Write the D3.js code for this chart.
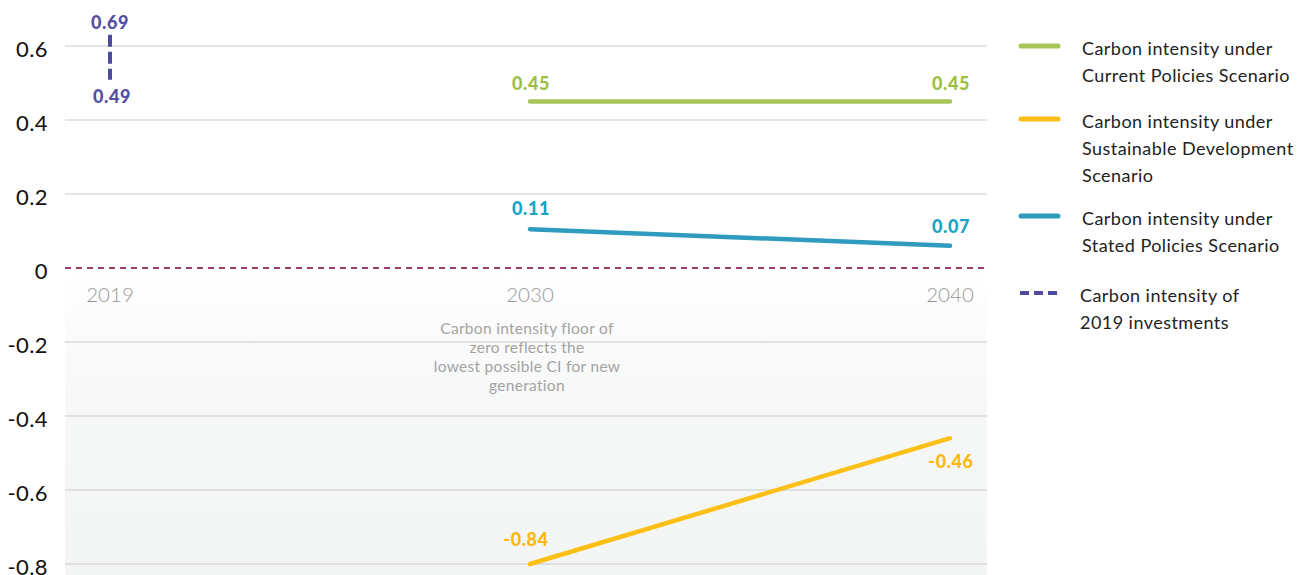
<!DOCTYPE html>
<html>
<head>
<meta charset="utf-8">
<script src="https://cdn.jsdelivr.net/npm/d3@7"></script>
<style>
  body { margin: 0; background: #fff; }
  svg { display: block; font-family: Lato, "Open Sans", sans-serif; }
</style>
</head>
<body>
<div class="chart"></div>
<script>
  const years = ["2019", "2030", "2040"];
  const yTicks = [0.6, 0.4, 0.2, 0, -0.2, -0.4, -0.6, -0.8];

  // series values
  const currentPolicies = [0.45, 0.45];
  const currentLabels = ["0.45", "0.45"];
  const statedPolicies = [0.105, 0.06];
  const statedLabels = ["0.11", "0.07"];
  const sustainable = [-0.84, -0.46];
  const sustainableLabels = ["-0.84", "-0.46"];
  const investments2019 = [0.69, 0.49];

  const legendItems = [
    { color: "#a6c55a", dash: null, lines: ["Carbon intensity under", "Current Policies Scenario"] },
    { color: "#fbbd13", dash: null, lines: ["Carbon intensity under", "Sustainable Development", "Scenario"] },
    { color: "#2f9bbf", dash: null, lines: ["Carbon intensity under", "Stated Policies Scenario"] },
    { color: "#4e4b9c", dash: "9,5", lines: ["Carbon intensity of", "2019 investments"] }
  ];

  const annotation = ["Carbon intensity floor of", "zero reflects the", "lowest possible CI for new", "generation"];

  const w = 1300;
  const h = 575;
  const plotLeft = 65;
  const plotRight = 987;

  const svg = d3.select(".chart")
    .append("svg")
    .attr("width", w)
    .attr("height", h);

  /* scales */
  const xScale = d3.scalePoint()
    .domain(years)
    .range([110, 950]);

  // clamp keeps the -0.84 point on the bottom edge, as in the original
  const yScale = d3.scaleLinear()
    .domain([-0.8, 0.7])
    .range([564, 9])
    .clamp(true);

  /* grey area below zero */
  const defs = svg.append("defs");
  const grad = defs.append("linearGradient")
    .attr("id", "below")
    .attr("x1", 0).attr("y1", 0).attr("x2", 0).attr("y2", 1);
  grad.append("stop").attr("offset", "0%").attr("stop-color", "#ffffff");
  grad.append("stop").attr("offset", "45%").attr("stop-color", "#f6f7f7");
  grad.append("stop").attr("offset", "100%").attr("stop-color", "#f3f4f4");

  svg.append("rect")
    .attr("x", plotLeft)
    .attr("y", yScale(0))
    .attr("width", plotRight - plotLeft)
    .attr("height", h - yScale(0))
    .attr("fill", "url(#below)");

  /* gridlines */
  svg.append("g")
    .selectAll("line")
    .data(yTicks.filter(d => d !== 0))
    .enter()
    .append("line")
    .attr("x1", plotLeft)
    .attr("x2", plotRight)
    .attr("y1", d => yScale(d))
    .attr("y2", d => yScale(d))
    .attr("stroke", "#c9c9c9")
    .attr("stroke-width", 1.2);

  /* zero line */
  svg.append("line")
    .attr("x1", plotLeft)
    .attr("x2", plotRight)
    .attr("y1", yScale(0))
    .attr("y2", yScale(0))
    .attr("stroke", "#9b3c68")
    .attr("stroke-width", 2.2)
    .attr("stroke-dasharray", "6,5");

  /* y axis labels */
  const fmt = d => d === 0 ? "0" : (d < 0 ? "-" : "") + Math.abs(d).toFixed(1);
  svg.append("g")
    .selectAll("text")
    .data(yTicks)
    .enter()
    .append("text")
    .attr("x", 48)
    .attr("y", d => yScale(d) + 11)
    .attr("text-anchor", "end")
    .attr("font-size", 22)
    .attr("letter-spacing", 0.4)
    .attr("fill", "#111")
    .text(fmt);

  /* x axis labels */
  svg.append("g")
    .selectAll("text")
    .data(years)
    .enter()
    .append("text")
    .attr("x", d => xScale(d))
    .attr("y", yScale(0) + 34)
    .attr("text-anchor", "middle")
    .attr("font-size", 20.5)
    .attr("font-weight", 300)
    .attr("fill", "#9a9a9a")
    .text(d => d);

  /* annotation */
  svg.append("text")
    .attr("x", 527)
    .attr("y", 334)
    .attr("text-anchor", "middle")
    .attr("font-size", 15.5)
    .attr("letter-spacing", 0.3)
    .attr("fill", "#a3a3a3")
    .selectAll("tspan")
    .data(annotation)
    .enter()
    .append("tspan")
    .attr("x", 527)
    .attr("dy", (d, i) => i === 0 ? 0 : 19)
    .text(d => d);

  /* scenario lines */
  const line = d3.line()
    .x((d, i) => xScale(years[i + 1]))
    .y(d => yScale(d));

  const series = [
    { values: currentPolicies, labels: currentLabels, color: "#a6c55a", labelColor: "#9dbf3f", offsets: [-12, -12] },
    { values: statedPolicies, labels: statedLabels, color: "#2f9bbf", labelColor: "#17a3c4", offsets: [-14, -13] },
    { values: sustainable, labels: sustainableLabels, color: "#fcbf16", labelColor: "#f9b80e", offsets: [-18, 30] }
  ];

  series.forEach(s => {
    svg.append("path")
      .datum(s.values)
      .attr("d", line)
      .attr("fill", "none")
      .attr("stroke", s.color)
      .attr("stroke-width", 4.5)
      .attr("stroke-linecap", "round");

    svg.append("g")
      .selectAll("text")
      .data(s.values)
      .enter()
      .append("text")
      .attr("x", (d, i) => xScale(years[i + 1]) + (s.values === sustainable && i === 0 ? -4 : 1))
      .attr("y", (d, i) => yScale(d) + s.offsets[i])
      .attr("text-anchor", "middle")
      .attr("font-size", 18)
      .attr("letter-spacing", 0.6)
      .attr("font-weight", 900)
      .attr("fill", s.labelColor)
      .text((d, i) => s.labels[i]);
  });

  /* 2019 investments range */
  const x2019 = xScale("2019");
  svg.append("line")
    .attr("x1", x2019)
    .attr("x2", x2019)
    .attr("y1", yScale(investments2019[0]) + 22)
    .attr("y2", yScale(investments2019[1]) - 7)
    .attr("stroke", "#4e4b9c")
    .attr("stroke-width", 4)
    .attr("stroke-dasharray", "12,5");

  svg.append("g")
    .selectAll("text")
    .data(investments2019)
    .enter()
    .append("text")
    .attr("x", (d, i) => x2019 + (i === 0 ? 0 : 2))
    .attr("y", (d, i) => yScale(d) + 16)
    .attr("text-anchor", "middle")
    .attr("font-size", 18)
    .attr("letter-spacing", 0.6)
    .attr("font-weight", 900)
    .attr("fill", "#544fa0")
    .text(d => d.toFixed(2));

  /* legend */
  const legendY = [46, 119, 216, 293];
  const legend = svg.append("g");
  legendItems.forEach((item, i) => {
    const g = legend.append("g").attr("transform", "translate(0," + legendY[i] + ")");
    g.append("line")
      .attr("x1", item.dash ? 1020 : 1021)
      .attr("x2", 1058)
      .attr("y1", 0)
      .attr("y2", 0)
      .attr("stroke", item.color)
      .attr("stroke-width", item.dash ? 4 : 5)
      .attr("stroke-linecap", item.dash ? "butt" : "round")
      .attr("stroke-dasharray", item.dash);
    g.append("text")
      .attr("font-size", 18)
      .attr("letter-spacing", 0.45)
      .attr("fill", "#222")
      .selectAll("tspan")
      .data(item.lines)
      .enter()
      .append("tspan")
      .attr("x", item.dash ? 1080 : 1082)
      .attr("y", (d, j) => 9 + j * 27)
      .text(d => d);
  });
</script>
</body>
</html>
